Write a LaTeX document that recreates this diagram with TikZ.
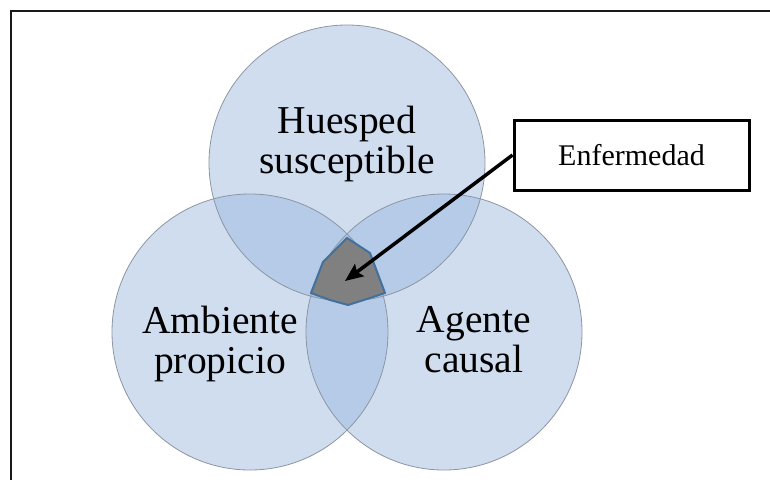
\documentclass[tikz,border=0pt]{standalone}
\usepackage{fontspec}
\setmainfont{Liberation Serif}
\usetikzlibrary{arrows.meta}
\definecolor{cfill}{RGB}{150,180,220}
\definecolor{cline}{RGB}{140,150,162}
\definecolor{pline}{RGB}{65,113,156}
\definecolor{pfill}{RGB}{128,128,128}
\tikzset{
  venn/.style={fill=cfill, fill opacity=0.45},
  vennline/.style={draw=cline, line width=0.8pt},
  bigtext/.style={align=center, inner sep=0pt, font=\fontsize{39.5}{40}\selectfont},
  labelbox/.style={draw=black, line width=3pt, inner sep=0pt, minimum width=235pt, minimum height=70pt, font=\fontsize{30}{32}\selectfont},
  pointer/.style={line width=3.5pt, -{Stealth[length=18pt,width=15pt,inset=3pt]}}
}
\begin{document}
\begin{tikzpicture}[x=1pt,y=-1pt]
\useasboundingbox (0,0) rectangle (770,479);
% frame
\draw[line width=2.6pt, black!90] (11,485) -- (11,11) -- (780,11);
% circles
\coordinate (ct) at (347,163);
\coordinate (cl) at (250,332);
\coordinate (cr) at (444,332);
\fill[venn] (ct) circle[radius=138pt];
\fill[venn] (cl) circle[radius=138pt];
\fill[venn] (cr) circle[radius=138pt];
\draw[vennline] (ct) circle[radius=138pt];
\draw[vennline] (cl) circle[radius=138pt];
\draw[vennline] (cr) circle[radius=138pt];
% center region
\draw[draw=pline, fill=pfill, line width=2pt, line join=round]
  (347,238) -- (323,262) -- (311,293) -- (330,300) -- (348,305) -- (370,298) -- (385,293) -- (370,253) -- cycle;
\coordinate (tip) at (345,281);
% texts
\node[bigtext] (hs) at (347,143.5) {Huesped\\susceptible};
\node[bigtext] (ap) at (220,343.5) {Ambiente\\propicio};
\node[bigtext] (ac) at (474,339.5) {Agente\\causal};
% label box
\node[labelbox] (enf) at (631.5,155) {Enfermedad};
\draw[pointer] (enf.west) -- (tip);
\end{tikzpicture}
\end{document}
